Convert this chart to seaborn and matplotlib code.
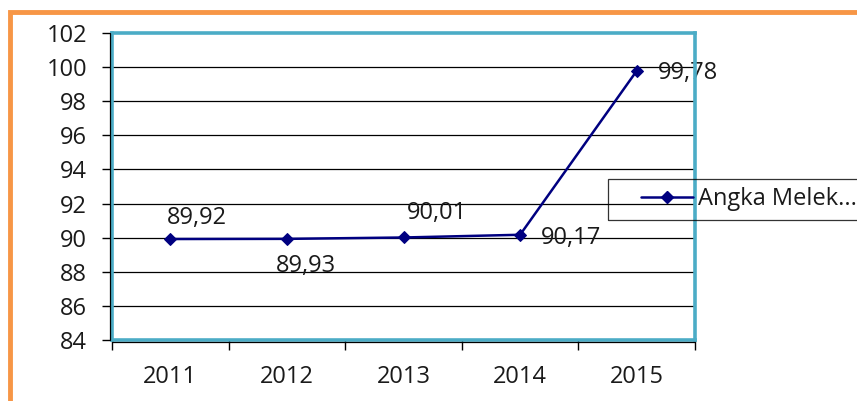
import pandas as pd
import matplotlib
matplotlib.use('Agg')
import matplotlib.pyplot as plt
import seaborn as sns
from matplotlib.patches import Rectangle
from matplotlib.lines import Line2D
from matplotlib.legend_handler import HandlerLine2D
from matplotlib.transforms import offset_copy

# Data
years = ['2011', '2012', '2013', '2014', '2015']
values = [89.92, 89.93, 90.01, 90.17, 99.78]
value_labels = ['89,92', '89,93', '90,01', '90,17', '99,78']
series_name = 'Angka Melek...'
y_ticks = [84, 86, 88, 90, 92, 94, 96, 98, 100, 102]

# label offsets (pixels) relative to each point
label_offsets = [(27, 21), (19, -27), (34, 24), (51, -3), (51, -2)]

FS = 17
df = pd.DataFrame({'Tahun': years, 'Nilai': values})

sns.set_theme(style='white')
plt.rcParams['font.family'] = ['Open Sans', 'DejaVu Sans']

fig = plt.figure(figsize=(8.57, 4.01), dpi=100)
ax = fig.add_axes([112 / 857, 1 - 340 / 401, (695 - 112) / 857, (340 - 33) / 401])

navy = '#000080'
sns.lineplot(data=df, x='Tahun', y='Nilai', ax=ax, sort=False, color=navy,
             linewidth=1.8, marker='D', markersize=6, markeredgecolor=navy,
             legend=False, zorder=5)

for i, (lab, (dx, dy)) in enumerate(zip(value_labels, label_offsets)):
    ax.annotate(lab, (i, values[i]), xytext=(dx, dy), textcoords='offset pixels',
                ha='center', va='center', fontsize=FS, color='#1a1a1a', zorder=6)

ax.set_xlim(-0.5, 4.5)
ax.set_ylim(84, 102)
ax.set_yticks(y_ticks)
ax.set_yticklabels([str(t) for t in y_ticks])
ax.set_xlabel('')
ax.set_ylabel('')

# gridlines
for t in y_ticks[1:-1]:
    ax.axhline(t, color='black', linewidth=0.9, zorder=1)

# ticks
ax.tick_params(axis='y', which='major', direction='out', length=7, width=1,
               color='black', left=True, pad=11, labelsize=FS, labelcolor='#1a1a1a')
ax.tick_params(axis='x', which='major', length=0, pad=18, labelsize=FS,
               labelcolor='#1a1a1a')
ax.set_xticks([-0.5, 0.5, 1.5, 2.5, 3.5, 4.5], minor=True)
ax.tick_params(axis='x', which='minor', direction='out', length=7, width=1,
               color='black', bottom=True)

for s in ax.spines.values():
    s.set_color('#4bacc6')
    s.set_linewidth(2.6)
    s.set_zorder(7)

# thin black axis lines just outside the left and bottom border
tr_left = offset_copy(ax.transAxes, fig=fig, x=-2, y=0, units='dots')
tr_bot = offset_copy(ax.transAxes, fig=fig, x=0, y=-2, units='dots')
ax.add_line(Line2D([0, 0], [0, 1], transform=tr_left, color='black',
                   linewidth=0.9, clip_on=False, zorder=8))
ax.add_line(Line2D([0, 1], [0, 0], transform=tr_bot, color='black',
                   linewidth=0.9, clip_on=False, zorder=8))


class ShiftedLineHandler(HandlerLine2D):
    def create_artists(self, legend, orig_handle, xdescent, ydescent, width,
                       height, fontsize, trans):
        shift = width * 0.32
        return super().create_artists(legend, orig_handle, xdescent - shift,
                                      ydescent, width - shift, height,
                                      fontsize, trans)


# legend
handle = Line2D([], [], color=navy, linewidth=1.8, marker='D', markersize=6)
leg = fig.legend([handle], [series_name], loc='upper left',
                 bbox_to_anchor=(608 / 857, 1 - 179 / 401), frameon=True,
                 fancybox=False, fontsize=FS, handlelength=3.26,
                 borderpad=0.35, handletextpad=0.2, borderaxespad=0,
                 handler_map={Line2D: ShiftedLineHandler(numpoints=1)})
leg.get_frame().set_edgecolor('black')
leg.get_frame().set_linewidth(0.9)
leg.get_frame().set_facecolor('none')
for t in leg.get_texts():
    t.set_color('#1a1a1a')

# orange outer frame
fig.patches.append(Rectangle((10 / 857, -0.1), 1.2, 1 - 12 / 401 + 0.1,
                             transform=fig.transFigure, fill=False,
                             edgecolor='#f79646', linewidth=3.5, zorder=0))

fig.savefig('out.png', dpi=100)
